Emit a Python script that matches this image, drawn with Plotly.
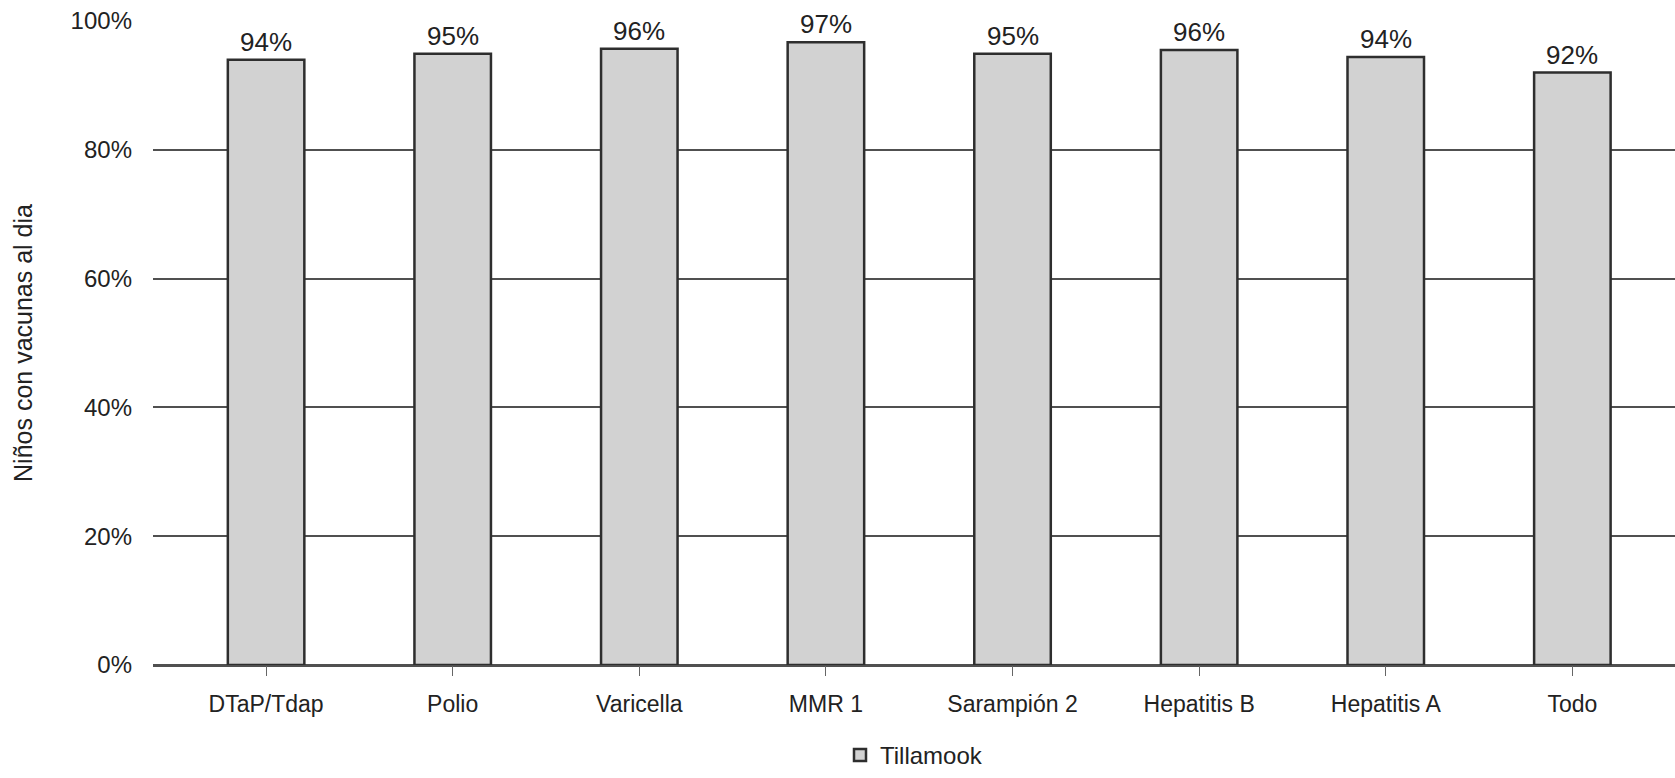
import plotly.graph_objects as go

categories = ["DTaP/Tdap", "Polio", "Varicella", "MMR 1", "Sarampión 2",
              "Hepatitis B", "Hepatitis A", "Todo"]
values = [94.0, 94.9, 95.7, 96.7, 94.9, 95.5, 94.4, 92.0]
y_ticks = [0, 20, 40, 60, 80, 100]
y_tick_labels = ["0%", "20%", "40%", "60%", "80%", "100%"]
series_name = "Tillamook"

font_family = "Liberation Sans, Arial, sans-serif"

fig = go.Figure()
fig.add_trace(go.Bar(
    x=categories,
    y=values,
    name=series_name,
    width=0.41,
    marker=dict(color="#d2d2d2", line=dict(color="#2e2e2e", width=2.5)),
    showlegend=True,
))

for cat, v in zip(categories, values):
    fig.add_annotation(
        x=cat, y=v, xref="x", yref="y",
        text=f"{round(v):.0f}%",
        showarrow=False,
        yanchor="bottom",
        yshift=1,
        font=dict(size=26, color="#222222", family=font_family),
    )

fig.update_layout(
    width=1675,
    height=778,
    margin=dict(l=153, r=0, t=21, b=113, autoexpand=False),
    paper_bgcolor="white",
    plot_bgcolor="white",
    font=dict(family=font_family, color="#222222"),
    showlegend=True,
    legend=dict(
        orientation="h",
        xref="paper", x=0.5, xanchor="center",
        yref="container", y=0.0, yanchor="bottom",
        font=dict(size=24, color="#222222"),
        tracegroupgap=0,
    ),
    xaxis=dict(
        type="category",
        range=[-0.606, 7.55],
        showgrid=False,
        ticks="outside",
        ticklen=10,
        tickcolor="#666666",
        tickwidth=1,
        tickfont=dict(size=23, color="#222222"),
        ticklabelstandoff=8,
        showline=False,
        zeroline=False,
    ),
    yaxis=dict(
        range=[0, 100],
        tickvals=y_ticks,
        ticktext=y_tick_labels,
        showgrid=True,
        gridcolor="#505050",
        gridwidth=2,
        zeroline=True,
        zerolinecolor="#505050",
        zerolinewidth=2.5,
        tickfont=dict(size=24, color="#222222"),
        ticks="",
        ticklabelstandoff=20,
        title=dict(text="Niños con vacunas al dia",
                   font=dict(size=25, color="#222222"), standoff=30),
    ),
)

fig.write_html(
    "out.html",
    config={"displayModeBar": False},
    post_script="document.body.style.margin='0';document.body.style.overflow='hidden';",
)
